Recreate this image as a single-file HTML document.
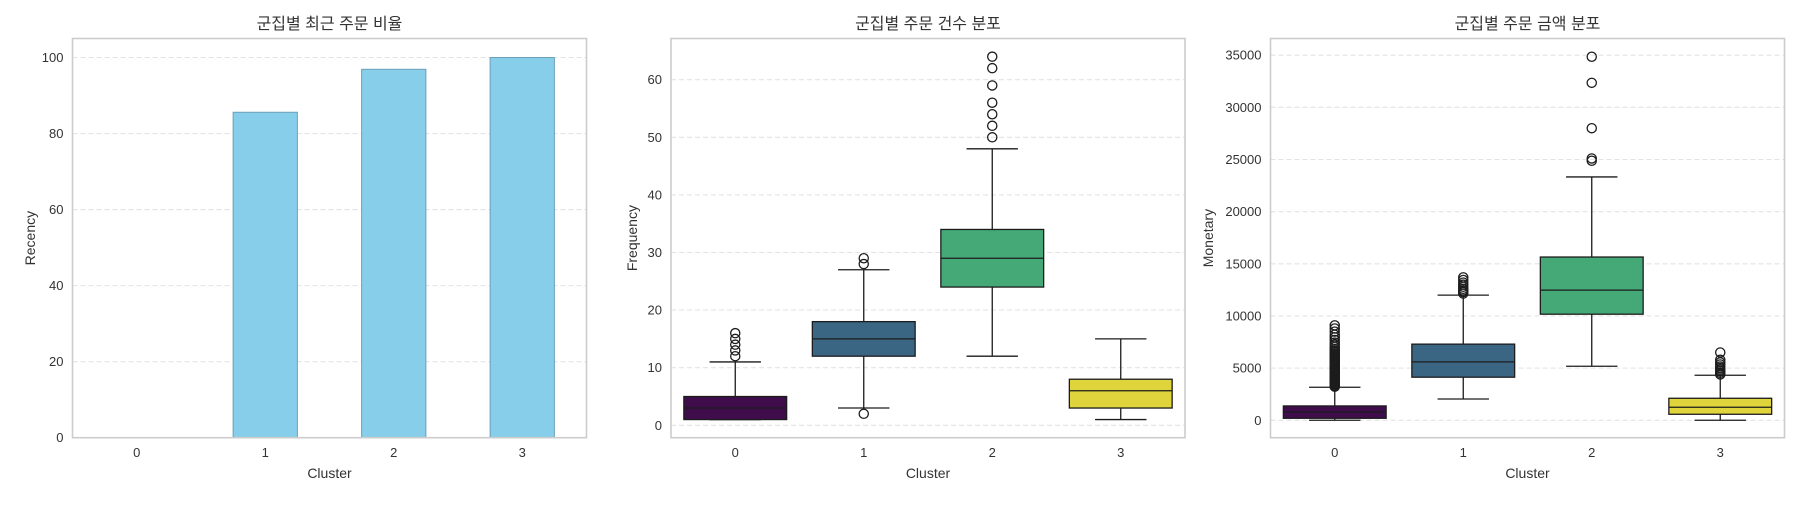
<!DOCTYPE html>
<html><head><meta charset="utf-8"><style>
html,body{margin:0;padding:0;background:#fff;}
svg text{font-family:"Liberation Sans","Noto Sans CJK KR",sans-serif;fill:#333;}
</style></head><body>
<svg id="fig" width="1800" height="500" xmlns="http://www.w3.org/2000/svg"></svg>
<script>
// ---- data ----
const clusters = ["0","1","2","3"];
// Panel 1: recency ratio bars
const recencyValues = [0, 85.6, 96.9, 100];
const recencyTicks = [0,20,40,60,80,100];
// Panel 2: frequency box stats [whisLo, q1, median, q3, whisHi]
const freqWhiskLo = [1, 3, 12, 1];
const freqQ1 = [1, 12, 24, 3];
const freqMedian = [3, 15, 29, 6];
const freqQ3 = [5, 18, 34, 8];
const freqWhiskHi = [11, 27, 48, 15];
const freqOutliers0 = [12,13,14,15,16];
const freqOutliers1 = [2,28,29];
const freqOutliers2 = [50,52,54,56,59,62,64];
const freqOutliers3 = [];
const freqTicks = [0,10,20,30,40,50,60];
// Panel 3: monetary box stats
const monWhiskLo = [0, 2040, 5180, 0];
const monQ1 = [190, 4130, 10170, 575];
const monMedian = [780, 5600, 12480, 1250];
const monQ3 = [1375, 7300, 15650, 2110];
const monWhiskHi = [3170, 12000, 23330, 4320];
const monOutliers0 = [3220,3300,3380,3450,3530,3610,3700,3790,3870,3950,4040,4130,4220,4300,4390,4480,4570,4650,4740,4830,4920,5010,5100,5190,5280,5370,5460,5550,5640,5730,5820,5910,6000,6100,6200,6300,6420,6550,6700,6850,7050,7250,7450,7700,7950,8200,8500,8800,9100];
const monOutliers1 = [12150,12300,12450,12600,12800,13000,13200,13450,13700];
const monOutliers2 = [24880,25100,28000,32350,34850];
const monOutliers3 = [4400,4550,4700,4850,5000,5150,5350,5550,5800,6500];
const monTicks = [0,5000,10000,15000,20000,25000,30000,35000];

const NS="http://www.w3.org/2000/svg";
const svg=document.getElementById('fig');
function mk(tag,attrs,parent){const e=document.createElementNS(NS,tag);for(const k in attrs)e.setAttribute(k,attrs[k]);(parent||svg).appendChild(e);return e;}

const TOP=38.5, BOT=437.7, W=514;
const boxColors=["#3f0c4c","#3b6683","#45a877","#e0d43c"];

function panel(left, title, ylabel, ymin, ymax, ticks, ylabX, key){
  const g=mk('g',{});
  
  
  const y=v=>BOT-(v-ymin)/(ymax-ymin)*(BOT-TOP);
  const x=i=>left+(i+0.5)*W/4;
  ticks.forEach(t=>{
    const gl=mk('line',{x1:left,x2:left+W,y1:y(t),y2:y(t),stroke:'#e3e3e3','stroke-width':1.1,'stroke-dasharray':'5,3'},g);
    
    
    const tl=mk('text',{x:left-9,y:y(t)+4.5,'text-anchor':'end','font-size':13},g);
    tl.textContent=t;
    
    
  });
  clusters.forEach((c,i)=>{
    const tl=mk('text',{x:x(i),y:457,'text-anchor':'middle','font-size':13},g);
    tl.textContent=c;
    
    
  });
  const t=mk('text',{x:left+W/2,y:29,'text-anchor':'middle','font-size':16},g);
  t.textContent=title;
  
  
  const xl=mk('text',{x:left+W/2,y:478,'text-anchor':'middle','font-size':14},g);
  xl.textContent='Cluster';
  
  
  const yl=mk('text',{x:ylabX,y:(TOP+BOT)/2,'text-anchor':'middle','font-size':14,transform:`rotate(-90 ${ylabX} ${(TOP+BOT)/2})`,dy:5},g);
  yl.textContent=ylabel;
  
  
  return {g,x,y,left};
}
function frame(p){
  const r=mk('rect',{x:p.left,y:TOP,width:W,height:BOT-TOP,fill:'none',stroke:'#cccccc','stroke-width':1.6},p.g);
  
  
}

// Panel 1
const p1=panel(72.5,'군집별 최근 주문 비율','Recency',0,105,recencyTicks,30,'recency');
recencyValues.forEach((v,i)=>{
  const bw=W/4*0.5;
  const b=mk('rect',{x:p1.x(i)-bw/2,y:p1.y(v),width:bw,height:p1.y(0)-p1.y(v),fill:'#87ceeb',stroke:'#6c9fb6','stroke-width':1},p1.g);
  
  
});
frame(p1);

function boxes(p,lo,q1,med,q3,hi,outs,key){
  clusters.forEach((c,i)=>{
    const cx=p.x(i), bw=W/4*0.8, cw=bw/2;
    const g=mk('g',{},p.g);
    
    
    const st={stroke:'#1c1c1c','stroke-width':1.3,fill:'none'};
    mk('line',Object.assign({x1:cx,x2:cx,y1:p.y(q3[i]),y2:p.y(hi[i])},st),g);
    mk('line',Object.assign({x1:cx,x2:cx,y1:p.y(q1[i]),y2:p.y(lo[i])},st),g);
    mk('line',Object.assign({x1:cx-cw/2,x2:cx+cw/2,y1:p.y(hi[i]),y2:p.y(hi[i])},st),g);
    mk('line',Object.assign({x1:cx-cw/2,x2:cx+cw/2,y1:p.y(lo[i]),y2:p.y(lo[i])},st),g);
    mk('rect',{x:cx-bw/2,y:p.y(q3[i]),width:bw,height:p.y(q1[i])-p.y(q3[i]),fill:boxColors[i],stroke:'#1c1c1c','stroke-width':1.3},g);
    mk('line',Object.assign({x1:cx-bw/2,x2:cx+bw/2,y1:p.y(med[i]),y2:p.y(med[i])},st),g);
    outs[i].forEach(v=>{
      const o=mk('circle',{cx:cx,cy:p.y(v),r:4.6,fill:'none',stroke:'#1c1c1c','stroke-width':1.3},g);
      
      
    });
  });
}

// Panel 2
const p2=panel(671,'군집별 주문 건수 분포','Frequency',-2.15,67.15,freqTicks,632,'frequency');
boxes(p2,freqWhiskLo,freqQ1,freqMedian,freqQ3,freqWhiskHi,[freqOutliers0,freqOutliers1,freqOutliers2,freqOutliers3],'frequency');
frame(p2);

// Panel 3
const p3=panel(1270.5,'군집별 주문 금액 분포','Monetary',-1670,36600,monTicks,1208,'monetary');
boxes(p3,monWhiskLo,monQ1,monMedian,monQ3,monWhiskHi,[monOutliers0,monOutliers1,monOutliers2,monOutliers3],'monetary');
frame(p3);
</script>
</body></html>
